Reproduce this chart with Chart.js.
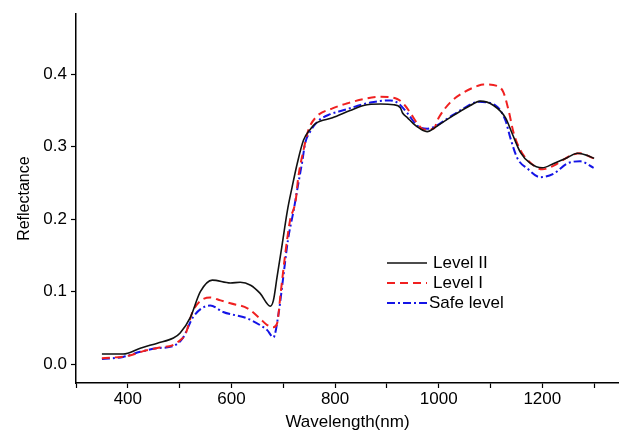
<!DOCTYPE html>
<html>
<head>
<meta charset="utf-8">
<script src="https://cdn.jsdelivr.net/npm/chart.js"></script>
<style>
	html, body { margin: 0; padding: 0; background: #fff; }
	#wrap { width: 619px; height: 430px; }
</style>
</head>
<body>
<div id="wrap"><canvas id="specChart" width="619" height="430"></canvas></div>
<script>
// Level II (black solid)
const levelIIWl = [350, 391, 424, 457, 488, 501, 521, 540, 563, 598, 617, 637, 655, 675, 681, 688, 697, 708, 717, 727, 739, 753, 762, 795, 829, 855, 888, 913, 926, 930, 940, 951, 964, 978, 990, 1004, 1028, 1061, 1080, 1106, 1129, 1142, 1158, 1177, 1200, 1222, 1248, 1268, 1287, 1300];
const levelII = [0.014, 0.014, 0.022, 0.029, 0.036, 0.043, 0.065, 0.100, 0.116, 0.112, 0.113, 0.109, 0.098, 0.080, 0.088, 0.120, 0.161, 0.212, 0.244, 0.277, 0.309, 0.325, 0.332, 0.340, 0.350, 0.357, 0.359, 0.358, 0.354, 0.347, 0.340, 0.332, 0.325, 0.321, 0.325, 0.332, 0.343, 0.357, 0.363, 0.357, 0.340, 0.318, 0.292, 0.277, 0.271, 0.277, 0.285, 0.291, 0.288, 0.284];

// Level I (red dashed)
const levelIWl = [350, 404, 430, 462, 486, 501, 511, 526, 559, 579, 598, 631, 655, 669, 681, 688, 695, 704, 713, 724, 729, 739, 748, 762, 795, 824, 855, 888, 920, 935, 946, 959, 971, 990, 1000, 1022, 1048, 1075, 1086, 1113, 1125, 1135, 1145, 1158, 1177, 1200, 1222, 1255, 1273, 1299];
const levelI = [0.008, 0.012, 0.018, 0.023, 0.026, 0.033, 0.041, 0.074, 0.092, 0.088, 0.084, 0.077, 0.063, 0.054, 0.051, 0.056, 0.098, 0.153, 0.198, 0.226, 0.258, 0.295, 0.322, 0.340, 0.353, 0.360, 0.366, 0.369, 0.366, 0.357, 0.346, 0.332, 0.324, 0.325, 0.340, 0.361, 0.375, 0.384, 0.386, 0.384, 0.375, 0.350, 0.318, 0.295, 0.278, 0.269, 0.274, 0.288, 0.291, 0.284];

// Safe level (blue dash-dot)
const safeWl = [350, 391, 424, 457, 488, 507, 526, 559, 584, 631, 655, 669, 681, 691, 700, 709, 720, 729, 737, 742, 753, 768, 791, 814, 868, 907, 922, 940, 959, 978, 993, 1017, 1048, 1077, 1110, 1129, 1138, 1152, 1171, 1196, 1222, 1248, 1273, 1299];
const safe = [0.007, 0.010, 0.017, 0.022, 0.025, 0.037, 0.065, 0.081, 0.072, 0.063, 0.054, 0.047, 0.037, 0.070, 0.120, 0.171, 0.212, 0.249, 0.281, 0.304, 0.322, 0.336, 0.345, 0.350, 0.361, 0.364, 0.360, 0.346, 0.329, 0.325, 0.328, 0.339, 0.353, 0.362, 0.357, 0.336, 0.313, 0.284, 0.270, 0.258, 0.263, 0.277, 0.280, 0.271];

const xLabels = [400, 600, 800, 1000, 1200];
const yLabels = [0, 0.1, 0.2, 0.3, 0.4];

const FONT = "'Liberation Sans', Arial, sans-serif";

function toPoints(xs, ys) {
	return xs.map((x, i) => ({ x: x, y: ys[i] }));
}

// legend drawn inside the plot, like the original figure
const legendBox = {
	id: "legendBox",
	afterDatasetsDraw(chart) {
		const ctx = chart.ctx;
		const rows = [
			{ y: 263, textX: 433 },
			{ y: 283, textX: 433 },
			{ y: 303, textX: 429 },
		];
		ctx.save();
		ctx.font = "17px " + FONT;
		ctx.textBaseline = "middle";
		chart.data.datasets.forEach((ds, i) => {
			const r = rows[i];
			ctx.strokeStyle = ds.borderColor;
			ctx.lineWidth = ds.borderWidth;
			ctx.setLineDash(ds.borderDash || []);
			ctx.beginPath();
			ctx.moveTo(387, r.y);
			ctx.lineTo(427, r.y);
			ctx.stroke();
			ctx.setLineDash([]);
			ctx.fillStyle = "#000";
			ctx.fillText(ds.label, r.textX, r.y);
		});
		ctx.restore();
	},
};

const ctx = document.getElementById("specChart").getContext("2d");
const chart = new Chart(ctx, {
	type: "line",
	data: {
		datasets: [
			{
				label: "Level II",
				data: toPoints(levelIIWl, levelII),
				borderColor: "#111111",
				borderWidth: 1.6,
				borderDash: [],
			},
			{
				label: "Level I",
				data: toPoints(levelIWl, levelI),
				borderColor: "#f02020",
				borderWidth: 2,
				borderDash: [8, 5],
			},
			{
				label: "Safe level",
				data: toPoints(safeWl, safe),
				borderColor: "#1414e6",
				borderWidth: 2,
				borderDash: [8, 3, 2, 3],
			},
		],
	},
	options: {
		responsive: false,
		animation: false,
		layout: { padding: { top: 13, right: 0, left: 0, bottom: 0 } },
		elements: {
			point: { radius: 0 },
			line: { cubicInterpolationMode: "monotone", fill: false },
		},
		plugins: {
			legend: { display: false },
			tooltip: { enabled: false },
		},
		scales: {
			x: {
				type: "linear",
				min: 300,
				max: 1348,
				afterFit(scale) { scale.height = 47; },
				border: { color: "#000", width: 1.5 },
				grid: { drawOnChartArea: false, drawTicks: true, tickLength: 5, color: "#000", tickWidth: 1.2 },
				ticks: {
					stepSize: 100,
					includeBounds: false,
					autoSkip: false,
					maxRotation: 0,
					padding: 1,
					color: "#000",
					font: { family: FONT, size: 17 },
					callback: (v) => (xLabels.includes(v) ? String(v) : ""),
				},
				title: {
					display: true,
					text: "Wavelength(nm)",
					color: "#000",
					font: { family: FONT, size: 17 },
					padding: { top: 0, bottom: -3 },
				},
			},
			y: {
				min: -0.026,
				max: 0.483,
				afterFit(scale) { scale.width = 76; },
				border: { color: "#000", width: 1.5 },
				grid: { drawOnChartArea: false, drawTicks: true, tickLength: 5, color: "#000", tickWidth: 1.2 },
				ticks: {
					stepSize: 0.1,
					includeBounds: false,
					padding: 4,
					color: "#000",
					font: { family: FONT, size: 17 },
					callback: (v) => {
						const r = Math.round(v * 10) / 10;
						return yLabels.includes(r) ? r.toFixed(1) : "";
					},
				},
				title: {
					display: true,
					text: "Reflectance",
					color: "#000",
					font: { family: FONT, size: 16 },
					padding: { top: 15, bottom: 0 },
				},
			},
		},
	},
	plugins: [legendBox],
});
</script>
</body>
</html>
